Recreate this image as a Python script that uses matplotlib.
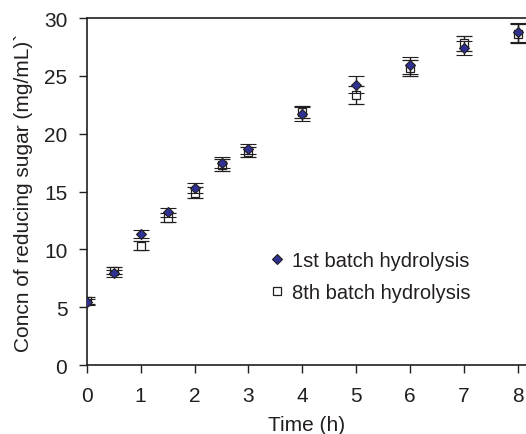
import matplotlib.pyplot as plt
import numpy as np

# Hydrolysis time (h)
time_h = [0, 0.5, 1, 1.5, 2, 2.5, 3, 4, 5, 6, 7, 8]

# Concn of reducing sugar (mg/mL)
batch1 = [5.45, 7.95, 11.35, 13.2, 15.3, 17.5, 18.65, 21.7, 24.25, 25.9, 27.4, 28.75]
batch1_err = [0.3, 0.3, 0.35, 0.4, 0.45, 0.5, 0.45, 0.6, 0.7, 0.75, 0.6, 0.8]
batch8 = [5.55, 8.15, 10.3, 12.75, 14.9, 17.3, 18.4, 21.85, 23.35, 25.7, 27.8, 28.65]
batch8_err = [0.3, 0.3, 0.4, 0.4, 0.45, 0.5, 0.45, 0.5, 0.8, 0.7, 0.65, 0.8]

ink = '#231f20'
plt.rcParams.update({'font.family': 'Liberation Sans', 'font.size': 15})

fig = plt.figure(figsize=(5.26, 4.35), dpi=100)
ax = fig.add_axes([0.165, 0.1586, 0.835, 0.7977])

ax.errorbar(time_h, batch8, yerr=batch8_err, fmt='s', ms=5.5, mfc='white',
            mec=ink, mew=0.9, ecolor=ink, elinewidth=1.0, capsize=6,
            capthick=1.0, label='8th batch hydrolysis', zorder=3)
ax.errorbar(time_h, batch1, yerr=batch1_err, fmt='D', ms=5.5, mfc='#2e3192',
            mec=ink, mew=0.8, ecolor=ink, elinewidth=1.0, capsize=6,
            capthick=1.0, label='1st batch hydrolysis', zorder=4)

ax.set_xlim(0, 8.15)
ax.set_ylim(0, 30)
ax.set_xticks(range(0, 9))
ax.set_yticks(range(0, 31, 5))
ax.set_xlabel('Time (h)', color=ink, labelpad=7)
ax.set_ylabel('Concn of reducing sugar (mg/mL)`', color=ink, labelpad=8)

for s in ['left', 'bottom', 'top']:
    ax.spines[s].set_color(ink)
    ax.spines[s].set_linewidth(1.2)
ax.spines['right'].set_visible(False)
ax.tick_params(direction='out', length=6, width=1, colors=ink, labelsize=15)
ax.tick_params(axis='x', pad=9)
ax.tick_params(axis='y', pad=8)

h, l = ax.get_legend_handles_labels()
leg = ax.legend([h[1][0], h[0][0]], [l[1], l[0]], loc='center left',
                bbox_to_anchor=(0.37, 0.255), frameon=False, fontsize=14.5,
                handletextpad=0.2, handlelength=1.0, labelspacing=0.6)
for t in leg.get_texts():
    t.set_color(ink)

fig.savefig('out.png', dpi=100)
